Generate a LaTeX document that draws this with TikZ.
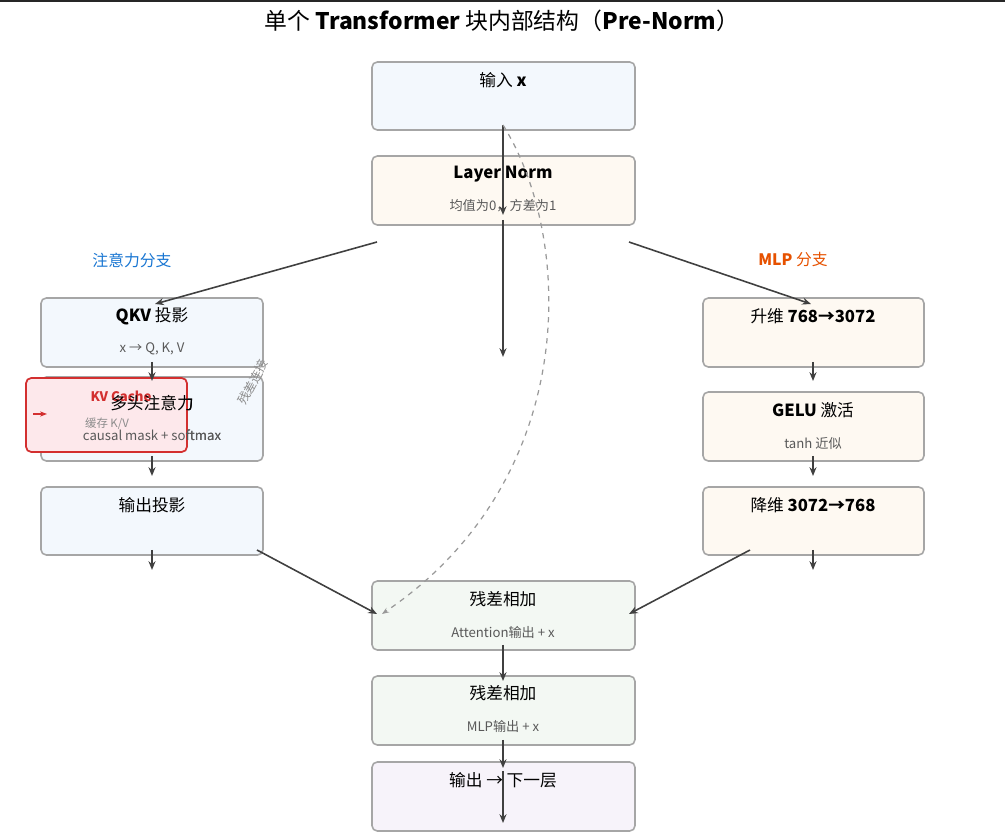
\documentclass[tikz,border=0pt]{standalone}
\usepackage{fontspec}
\setmainfont{Noto Sans CJK SC}
\usetikzlibrary{arrows.meta}
\definecolor{bluebg}{HTML}{F3F8FD}
\definecolor{orangebg}{HTML}{FEF9F2}
\definecolor{greenbg}{HTML}{F3F8F3}
\definecolor{purplebg}{HTML}{F7F3FA}
\definecolor{redbg}{HTML}{FDE8EB}
\definecolor{kvred}{HTML}{D32F2F}
\definecolor{branchblue}{HTML}{1976D2}
\definecolor{branchorange}{HTML}{E65100}
\tikzset{
  box/.style={draw=black!35, line width=0.9pt, rounded corners=3pt},
  ttl/.style={font=\fontsize{9.5}{11}\selectfont},
  sub/.style={font=\fontsize{7.5}{9}\selectfont, text=black!65},
  arr/.style={-{Stealth[length=5pt,width=4pt]}, draw=black!75, line width=0.9pt}
}
\begin{document}
\begin{tikzpicture}[x=0.02cm,y=-0.02cm]
\useasboundingbox (0,0) rectangle (1005,837);
\fill[black!85] (0,0) rectangle (1005,2.5);
\node[font=\fontsize{13}{15}\selectfont] (title) at (502,21) {单个 \textbf{Transformer} 块内部结构（\textbf{Pre-Norm}）};

% boxes
\draw[box, fill=bluebg] (372,62) rectangle (635,130);
\draw[box, fill=orangebg] (372,156) rectangle (635,225);
\draw[box, fill=bluebg] (41,298) rectangle (263,367);
\draw[box, fill=bluebg] (41,377) rectangle (263,461);
\draw[box, fill=bluebg] (41,487) rectangle (263,555);
\draw[box, fill=orangebg] (703,298) rectangle (924,367);
\draw[box, fill=orangebg] (703,392) rectangle (924,461);
\draw[box, fill=orangebg] (703,487) rectangle (924,555);
\draw[box, fill=greenbg] (372,581) rectangle (635,650);
\draw[box, fill=greenbg] (372,676) rectangle (635,745);
\draw[box, fill=purplebg] (372,762) rectangle (635,831);

% texts
\node[ttl] (inp) at (503,80) {输入 \textbf{x}};
\node[ttl] (ln) at (503,174) {\textbf{Layer Norm}};
\node[sub] (lnsub) at (503,206) {均值为0，方差为1};
\node[ttl] (qkv) at (152,316) {\textbf{QKV} 投影};
\node[sub] (qkvsub) at (152,349) {x → Q, K, V};
\node[ttl] (mha) at (152,403) {多头注意力};
\node[sub] (mhasub) at (152,435) {causal mask + softmax};
\node[ttl] (oproj) at (152,505) {输出投影};
\node[ttl] (up) at (813,316) {升维 \textbf{768→3072}};
\node[ttl] (gelu) at (813,410) {\textbf{GELU} 激活};
\node[sub] (gelusub) at (813,443) {tanh 近似};
\node[ttl] (down) at (813,505) {降维 \textbf{3072→768}};
\node[ttl] (res1) at (503,599) {残差相加};
\node[sub] (res1sub) at (503,632) {Attention输出 + x};
\node[ttl] (res2) at (503,693) {残差相加};
\node[sub] (res2sub) at (503,726) {MLP输出 + x};
\node[ttl] (outp) at (503,780) {输出 → 下一层};

\node[font=\fontsize{9}{11}\selectfont, text=branchblue] (attlab) at (132,260) {注意力分支};
\node[font=\fontsize{9}{11}\selectfont, text=branchorange] (mlplab) at (793,260) {\textbf{MLP} 分支};

% KV cache overlay
\draw[draw=kvred, line width=1pt, fill=redbg, rounded corners=3pt] (26,378) rectangle (187,452);
\node[font=\bfseries\fontsize{7.5}{9}\selectfont, text=kvred] (kv) at (121,396) {KV Cache};
\node[font=\fontsize{6.5}{8}\selectfont, text=black!45] (kvsub) at (107,424) {缓存 K/V};
\node[ttl, fill=none] at (152,403) {多头注意力};
\node[sub] at (152,435) {causal mask + softmax};
\coordinate (kvin) at (33,414);
\coordinate (kvend) at (47,414);
\draw[-{Stealth[length=4pt]}, kvred, line width=0.9pt] (kvin) -- (kvend);

% coordinates for connectors
\coordinate (a1) at (503,125); \coordinate (a2) at (503,215);
\coordinate (a3) at (503,220); \coordinate (a4) at (503,357);
\coordinate (lL) at (377,242); \coordinate (lR) at (629,242);
\coordinate (qT) at (155,304); \coordinate (uT) at (811,304);
\coordinate (r1L) at (377,614); \coordinate (r1R) at (629,614);
\coordinate (oB) at (257,550); \coordinate (dB) at (750,550);
\coordinate (dash) at (382,614);

\draw[arr] (a1) -- (a2);
\draw[arr] (a3) -- (a4);
\draw[arr] (lL) -- (qT);
\draw[arr] (lR) -- (uT);
\foreach \x in {152,813} {
  \draw[arr] (\x,362) -- (\x,381);
  \draw[arr] (\x,456) -- (\x,476);
  \draw[arr] (\x,550) -- (\x,570);
}
\draw[arr] (oB) -- (r1L);
\draw[arr] (dB) -- (r1R);
\draw[arr] (503,645) -- (503,681);
\draw[arr] (503,740) -- (503,768);
\draw[arr] (503,771) -- (503,823);

% residual dashed
\draw[black!40, dashed, line width=0.7pt, -{Stealth[length=4pt]}] (a1) .. controls (575,240) and (580,480) .. (dash);
\node[font=\fontsize{7}{8}\selectfont, text=black!45, rotate=62] (reslab) at (253,382) {残差连接};
\end{tikzpicture}
\end{document}
